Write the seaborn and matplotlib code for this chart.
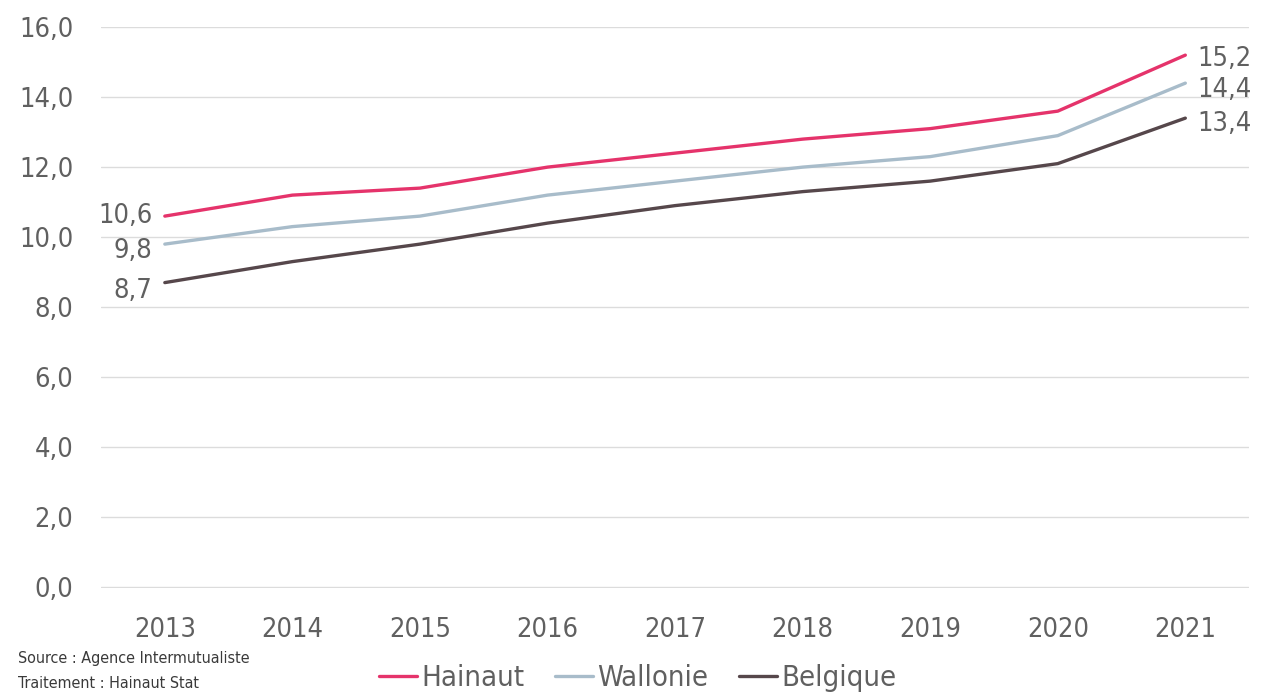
"""
Evolution Hainaut / Wallonie / Belgique 2013-2021
"""
import matplotlib
matplotlib.use('Agg')
import matplotlib.pyplot as plt
from matplotlib.ticker import FuncFormatter
import seaborn as sns
import pandas as pd

# données
annees = ['2013', '2014', '2015', '2016', '2017', '2018', '2019', '2020', '2021']
hainaut = [10.6, 11.2, 11.4, 12.0, 12.4, 12.8, 13.1, 13.6, 15.2]
wallonie = [9.8, 10.3, 10.6, 11.2, 11.6, 12.0, 12.3, 12.9, 14.4]
belgique = [8.7, 9.3, 9.8, 10.4, 10.9, 11.3, 11.6, 12.1, 13.4]
series = ['Hainaut', 'Wallonie', 'Belgique']
couleurs = ['#E5336B', '#A8BCCA', '#56474B']

sns.set_theme(style='white')
plt.rcParams['font.family'] = ['DejaVu Sans']
plt.rcParams['font.stretch'] = 'condensed'

df = pd.DataFrame({'annee': annees * 3,
                   'valeur': hainaut + wallonie + belgique,
                   'zone': [s for s in series for _ in annees]})

fig = plt.figure(figsize=(12.63, 6.96), dpi=100)
ax = fig.add_axes([0.080, 0.155, 0.909, 0.806])

sns.lineplot(data=df, x='annee', y='valeur', hue='zone', hue_order=series,
             palette=couleurs, linewidth=2.4, ax=ax, legend=False, sort=False)

ax.set_ylim(-0.03, 16)
ax.set_xlim(-0.5, len(annees) - 0.5)
ax.set_yticks(range(0, 17, 2))
ax.yaxis.set_major_formatter(FuncFormatter(lambda v, p: f'{v:.1f}'.replace('.', ',')))
ax.grid(True, axis='y', color='#dcdcdc', linewidth=1)
ax.set_axisbelow(True)
for s in ax.spines.values():
    s.set_visible(False)
ax.tick_params(axis='both', length=0, labelsize=19.5, colors='#606060')
ax.tick_params(axis='x', pad=21)
ax.tick_params(axis='y', pad=20)
ax.set_xlabel('')
ax.set_ylabel('')

fmt = lambda v: f'{v:.1f}'.replace('.', ',')

# étiquettes début et fin
debut_dy = [0, -5, -6]
fin_dy = [-3, -5, -4.5]
for vals, ddy, fdy in zip([hainaut, wallonie, belgique], debut_dy, fin_dy):
    ax.annotate(fmt(vals[0]), xy=(0, vals[0]), xytext=(-9, ddy),
                textcoords='offset points', ha='right', va='center',
                fontsize=19.5, color='#606060')
    ax.annotate(fmt(vals[-1]), xy=(len(annees) - 1, vals[-1]), xytext=(9, fdy),
                textcoords='offset points', ha='left', va='center',
                fontsize=19.5, color='#606060')

# légende
handles = [plt.Line2D([], [], color=c, linewidth=2.4) for c in couleurs]
fig.legend(handles, series, loc='lower center', bbox_to_anchor=(0.505, -0.032),
           ncol=3, frameon=False, fontsize=21, handlelength=1.3,
           handletextpad=0.15, columnspacing=1.05, labelcolor='#606060')

fig.text(0.014, 0.048, 'Source : Agence Intermutualiste', fontsize=11.5, color='#3a3a3a')
fig.text(0.014, 0.012, 'Traitement : Hainaut Stat', fontsize=11.5, color='#3a3a3a')

plt.savefig('out.png', dpi=100)
